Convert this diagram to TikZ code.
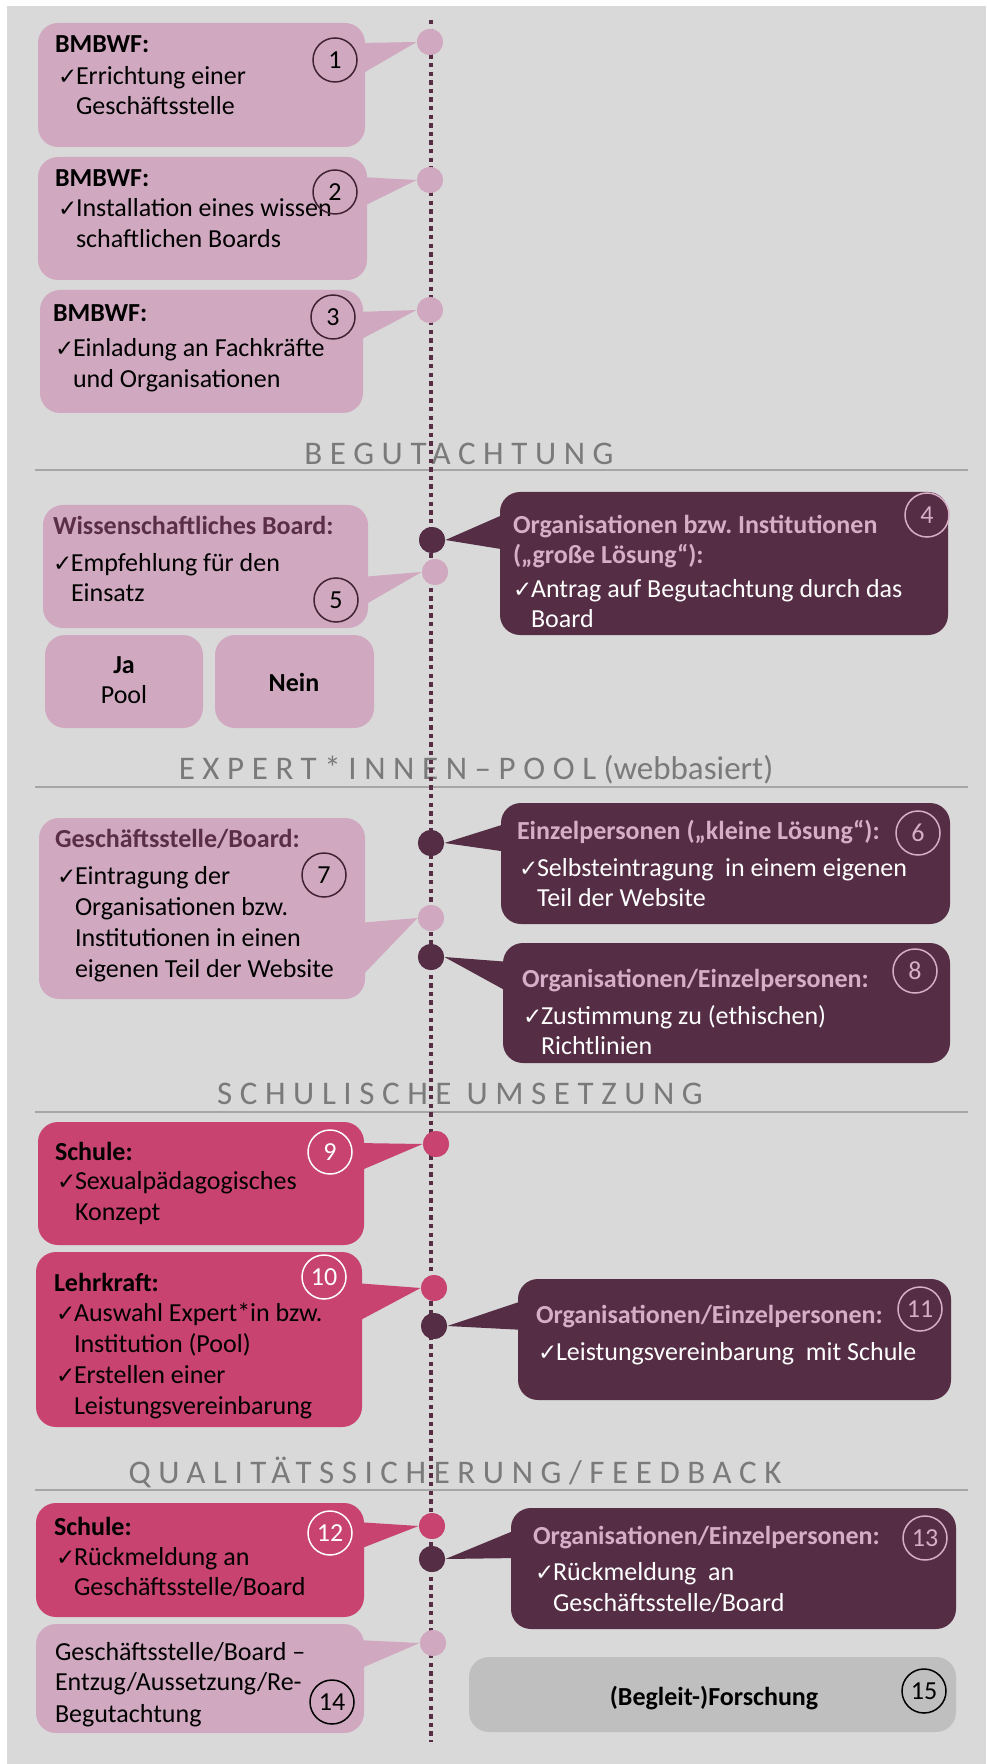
\documentclass[tikz,border=0pt]{standalone}
\usepackage{fontspec}
\setmainfont{Carlito}
\newfontfamily\secfont[LetterSpace=23]{Carlito}
\newfontfamily\plainsec{Carlito}
\newfontfamily\symfont{DejaVu Sans}
\definecolor{bgc}{HTML}{D9D9D9}
\definecolor{lm}{HTML}{D0A9C0}
\definecolor{dk}{HTML}{552D45}
\definecolor{pk}{HTML}{C8436F}
\definecolor{gbox}{HTML}{BFBFBF}
\definecolor{hdm}{HTML}{5A2D48}
\definecolor{secg}{HTML}{7A7A7A}
\definecolor{secl}{HTML}{A6A6A6}
\definecolor{lmtxt}{HTML}{D6AEC7}
\newcommand\ck{\makebox[9pt][l]{\symfont\fontsize{11.5}{11.5}\selectfont ✓}}
\frenchspacing
\begin{document}
\begin{tikzpicture}[x=0.5pt,y=-0.5pt,
  txt/.style={inner sep=0pt, outer sep=0pt, anchor=base west, font={\fontsize{13}{15.5}\selectfont}},
  hd/.style={txt, font={\bfseries\fontsize{13}{15.5}\selectfont}},
  num/.style={circle, draw, line width=0.75pt, minimum size=22pt, inner sep=0pt, font={\fontsize{13}{13}\selectfont}},
  dotc/.style={circle, minimum size=13pt, inner sep=0pt},
  sec/.style={inner sep=0pt, anchor=base, text=secg, font={\fontsize{16.5}{20}\selectfont\secfont}},
  secline/.style={draw=secl, line width=0.75pt},
  tl/.style={draw=dk, line width=2.4pt, dash pattern=on 2.2pt off 2.1pt},
  boxr/.style={rounded corners=10pt}
]
\useasboundingbox (0,0) rectangle (986,1764);
\fill[white] (0,0) rectangle (986,1764);
\fill[bgc] (7,6) rectangle (986,1764);

% section headers
\node[sec] (s1) at (459,465) {BEGUTACHTUNG};
\node[sec] (s2) at (476,779) {EXPERT*INNEN–POOL{\plainsec\ (webbasiert)}};
\node[sec] (s3) at (460,1104) {SCHULISCHE UMSETZUNG};
\node[sec] (s4) at (455,1483) {QUALITÄTSSICHERUNG/FEEDBACK};
\coordinate (l1a) at (35,470); \coordinate (l1b) at (968,470);
\coordinate (l2a) at (35,787); \coordinate (l2b) at (968,787);
\coordinate (l3a) at (35,1112); \coordinate (l3b) at (968,1112);
\coordinate (l4a) at (35,1490); \coordinate (l4b) at (968,1490);
\draw[secline] (l1a) -- (l1b);
\draw[secline] (l2a) -- (l2b);
\draw[secline] (l3a) -- (l3b);
\draw[secline] (l4a) -- (l4b);

% timeline
\coordinate (ltop) at (431,20);
\coordinate (lbot) at (431,1742);
\draw[tl] (ltop) -- (lbot);

% dots (positions)
\node[dotc, fill=lm] (d1) at (430,42) {};
\node[dotc, fill=lm] (d2) at (430,180) {};
\node[dotc, fill=lm] (d3) at (430,310) {};
\node[dotc, fill=dk] (d4) at (432,540) {};
\node[dotc, fill=lm] (d5) at (435,572) {};
\node[dotc, fill=dk] (d6) at (431,843) {};
\node[dotc, fill=lm] (d7) at (431,918) {};
\node[dotc, fill=dk] (d8) at (431,957) {};
\node[dotc, fill=pk] (d9) at (436,1144) {};
\node[dotc, fill=pk] (d10) at (434,1288) {};
\node[dotc, fill=dk] (d11) at (434,1326) {};
\node[dotc, fill=pk] (d12) at (432,1526) {};
\node[dotc, fill=dk] (d13) at (432,1559) {};
\node[dotc, fill=lm] (d14) at (433,1643) {};

% pointers
\fill[lm] (d1.west) -- (360,43) -- (360,75) -- cycle;
\fill[lm] (d2.west) -- (360,177) -- (360,208) -- cycle;
\fill[lm] (d3.west) -- (356,312) -- (356,342) -- cycle;
\fill[dk] (d4.east) -- (507,513) -- (507,550) -- cycle;
\fill[lm] (d5.west) -- (361,577) -- (361,607) -- cycle;
\fill[dk] (d6.east) -- (508,823) -- (508,852) -- cycle;
\fill[lm] (d7.west) -- (358,923) -- (358,980) -- cycle;
\fill[dk] (d8.east) -- (510,962) -- (510,993) -- cycle;
\fill[pk] (d9.west) -- (357,1143) -- (357,1172) -- cycle;
\fill[pk] (d10.west) -- (355,1283) -- (355,1323) -- cycle;
\fill[dk] (d11.east) -- (525,1300) -- (525,1330) -- cycle;
\fill[pk] (d12.west) -- (357,1522) -- (357,1550) -- cycle;
\fill[dk] (d13.east) -- (518,1529) -- (518,1558) -- cycle;
\fill[lm] (d14.west) -- (357,1640) -- (357,1670) -- cycle;

% redraw dots on top of pointers
\foreach \d/\c in {d1/lm,d2/lm,d3/lm,d4/dk,d5/lm,d6/dk,d7/lm,d8/dk,d9/pk,d10/pk,d11/dk,d12/pk,d13/dk,d14/lm}
  \fill[\c] (\d.center) circle (13);

% boxes
\fill[lm, boxr] (38,23) rectangle (365,147);
\fill[lm, boxr] (38,157) rectangle (367,280);
\fill[lm, boxr] (40,290) rectangle (363,413);
\fill[dk, boxr] (500,492) rectangle (948,635);
\fill[lm, boxr] (43,505) rectangle (368,628);
\fill[lm, boxr] (45,635) rectangle (203,728);
\fill[lm, boxr] (215,635) rectangle (374,728);
\fill[dk, boxr] (501,803) rectangle (950,924);
\fill[lm, boxr] (39,818) rectangle (365,999);
\fill[dk, boxr] (503,943) rectangle (950,1063);
\fill[pk, boxr] (38,1122) rectangle (364,1245);
\fill[pk, boxr] (36,1252) rectangle (362,1427);
\fill[dk, boxr] (518,1279) rectangle (951,1400);
\fill[pk, boxr] (36,1503) rectangle (364,1617);
\fill[dk, boxr] (511,1508) rectangle (956,1629);
\fill[lm, boxr] (36,1624) rectangle (364,1733);
\fill[gbox, boxr] (469,1657) rectangle (956,1732);

% box 1
\node[hd] (h1) at (55,53) {BMBWF:};
\node[txt] (t1a) at (58,85) {\ck Errichtung einer};
\node[txt] (t1b) at (76,115) {Geschäftsstelle};
\node[num, draw=dk!75!black] (n1) at (335,60) {1};
% box 2
\node[hd] (h2) at (55,187) {BMBWF:};
\node[txt] (t2a) at (58,217) {\ck Installation eines wissen};
\node[txt] (t2b) at (76,248) {schaftlichen Boards};
\node[num, draw=dk!75!black] (n2) at (335,192) {2};
% box 3
\node[hd] (h3) at (53,322) {BMBWF:};
\node[txt] (t3a) at (55,357) {\ck Einladung an Fachkräfte};
\node[txt] (t3b) at (73,388) {und Organisationen};
\node[num, draw=dk!75!black] (n3) at (333,317) {3};
% box 4
\begin{scope}
\clip (500,480) rectangle (884,545);
\node[hd, text=lmtxt] (h4a) at (513,534) {Organisationen bzw. Institutionen};
\end{scope}
\node[hd, text=lmtxt] (h4b) at (513,563) {(„große Lösung“):};
\node[txt, text=white] (t4a) at (513,597) {\ck Antrag auf Begutachtung durch das};
\node[txt, text=white] (t4b) at (531,627) {Board};
\node[num, draw=lmtxt, text=lmtxt] (n4) at (927,515) {4};
% box 5
\node[hd, text=hdm] (h5) at (53,535) {Wissenschaftliches Board:};
\node[txt] (t5a) at (53,571) {\ck Empfehlung für den};
\node[txt] (t5b) at (71,601) {Einsatz};
\node[num, draw=dk!75!black] (n5) at (336,600) {5};
% Ja / Nein
\node[hd, anchor=base] (ja) at (124,673) {Ja};
\node[txt, anchor=base] (pool) at (124,703) {Pool};
\node[hd, anchor=base] (nein) at (294,691) {Nein};
% box 6
\node[hd, text=lmtxt] (h6) at (517,839) {Einzelpersonen („kleine Lösung“):};
\node[txt, text=white] (t6a) at (519,876) {\ck Selbsteintragung\ \ in einem eigenen};
\node[txt, text=white] (t6b) at (537,906) {Teil der Website};
\node[num, draw=lmtxt, text=lmtxt] (n6) at (918,833) {6};
% box 7
\node[hd, text=hdm] (h7) at (55,847) {Geschäftsstelle/Board:};
\node[txt] (t7a) at (57,884) {\ck Eintragung der};
\node[txt] (t7b) at (75,915) {Organisationen bzw.};
\node[txt] (t7c) at (75,946) {Institutionen in einen};
\node[txt] (t7d) at (75,977) {eigenen Teil der Website};
\node[num, draw=dk!75!black] (n7) at (324,875) {7};
% box 8
\node[hd, text=lmtxt] (h8) at (522,987) {Organisationen/Einzelpersonen:};
\node[txt, text=white] (t8a) at (523,1024) {\ck Zustimmung zu (ethischen)};
\node[txt, text=white] (t8b) at (541,1054) {Richtlinien};
\node[num, draw=lmtxt, text=lmtxt] (n8) at (915,971) {8};
% box 9
\node[hd] (h9) at (55,1160) {Schule:};
\node[txt] (t9a) at (57,1189) {\ck Sexualpädagogisches};
\node[txt] (t9b) at (75,1220) {Konzept};
\node[num, draw=white, text=white] (n9) at (330,1152) {9};
% box 10
\node[hd] (h10) at (54,1291) {Lehrkraft:};
\node[txt] (t10a) at (56,1321) {\ck Auswahl Expert*in bzw.};
\node[txt] (t10b) at (74,1352) {Institution (Pool)};
\node[txt] (t10c) at (56,1383) {\ck Erstellen einer};
\node[txt] (t10d) at (74,1414) {Leistungsvereinbarung};
\node[num, draw=white, text=white] (n10) at (324,1277) {10};
% box 11
\node[hd, text=lmtxt] (h11) at (536,1323) {Organisationen/Einzelpersonen:};
\node[txt, text=white] (t11a) at (538,1360) {\ck Leistungsvereinbarung\ \ mit Schule};
\node[num, draw=lmtxt, text=lmtxt] (n11) at (920,1309) {11};
% box 12
\node[hd] (h12) at (54,1535) {Schule:};
\node[txt] (t12a) at (56,1565) {\ck Rückmeldung an};
\node[txt] (t12b) at (74,1595) {Geschäftsstelle/Board};
\node[num, draw=white, text=white] (n12) at (330,1533) {12};
% box 13
\node[hd, text=lmtxt] (h13) at (533,1544) {Organisationen/Einzelpersonen:};
\node[txt, text=white] (t13a) at (535,1580) {\ck Rückmeldung\ \ an};
\node[txt, text=white] (t13b) at (553,1611) {Geschäftsstelle/Board};
\node[num, draw=lmtxt, text=lmtxt] (n13) at (925,1538) {13};
% box 14
\node[txt] (t14a) at (55,1660) {Geschäftsstelle/Board –};
\node[txt] (t14b) at (55,1690) {Entzug/Aussetzung/Re-};
\node[txt] (t14c) at (55,1722) {Begutachtung};
\node[num, draw=black] (n14) at (332,1702) {14};
% box 15
\node[hd, anchor=base] (t15) at (714,1705) {(Begleit-)Forschung};
\node[num, draw=black] (n15) at (924,1691) {15};
\end{tikzpicture}
\end{document}
